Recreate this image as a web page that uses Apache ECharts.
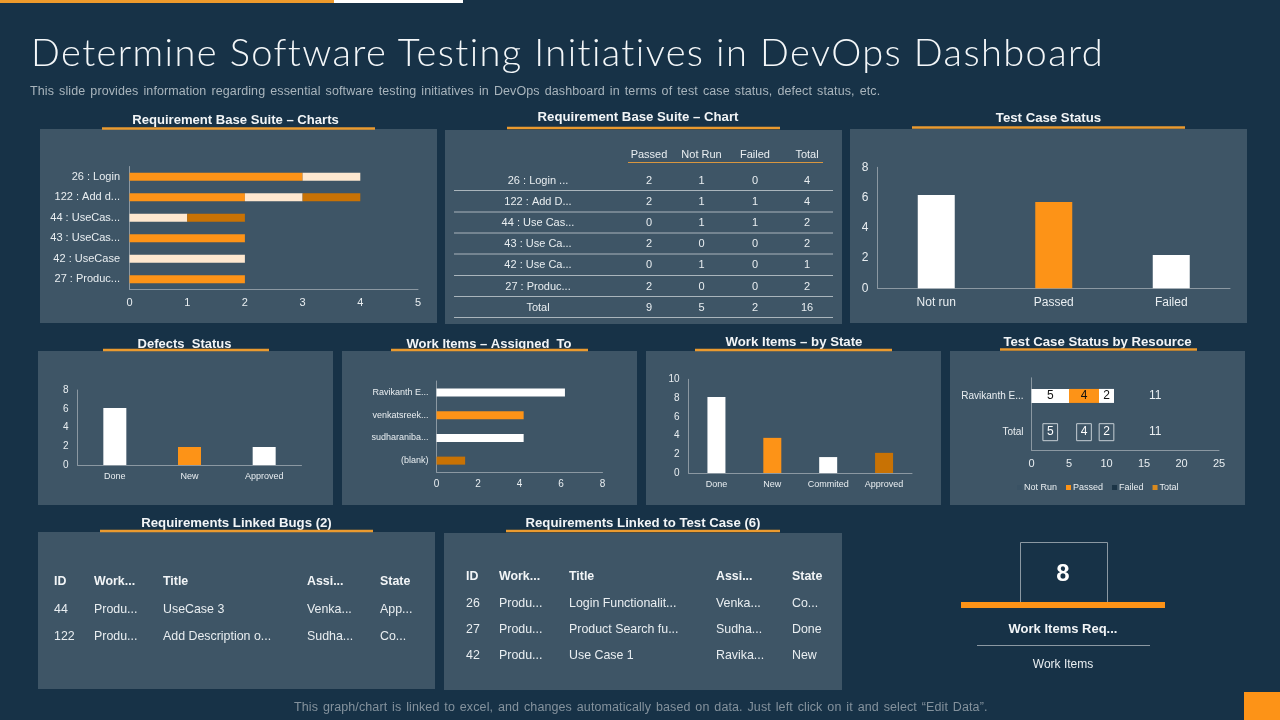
<!DOCTYPE html>
<html><head><meta charset="utf-8">
<style>html,body{margin:0;padding:0;background:#173247;width:1280px;height:720px;overflow:hidden}#c{width:1280px;height:720px}
.t{position:absolute;z-index:5;white-space:nowrap;font-family:"Liberation Sans",Arial,sans-serif}
#st{left:31px;top:27px;line-height:48px;font-family:Lato,"Open Sans",sans-serif;font-weight:300;font-size:38px;letter-spacing:1.4px;color:#f4f7f9}
#ss{left:30px;top:84px;line-height:15px;font-size:12.5px;letter-spacing:.1px;word-spacing:1.5px;color:#a9b5bd}
#sf{left:294px;top:700px;line-height:15px;font-size:12.5px;letter-spacing:.1px;word-spacing:1.3px;color:#84929d}
</style>
<script src="https://cdn.jsdelivr.net/npm/echarts@6/dist/echarts.min.js"></script>
</head><body><div id="c"></div>
<div class="t" id="st"></div><div class="t" id="ss"></div><div class="t" id="sf"></div>
<script>
// ---------- data ----------
const suiteCategories = ['26 : Login','122 : Add d...','44 : UseCas...','43 : UseCas...','42 : UseCase','27 : Produc...'];
const suitePassed = [3,2,0,2,0,2];
const suiteNotRun = [1,1,1,0,2,0];
const suiteFailed = [0,1,1,0,0,0];

const tableHeader = ['Passed','Not Run','Failed','Total'];
const tableNames = ['26 : Login ...','122 : Add D...','44 : Use Cas...','43 : Use Ca...','42 : Use Ca...','27 : Produc...','Total'];
const tablePassed = [2,2,0,2,0,2,9];
const tableNotRun = [1,1,1,0,1,0,5];
const tableFailed = [0,1,1,0,0,0,2];
const tableTotal = [4,4,2,2,1,2,16];

const statusCategories = ['Not run','Passed','Failed'];
const statusValues = [6.17,5.7,2.2];

const defectCategories = ['Done','New','Approved'];
const defectValues = [6.08,1.92,1.92];

const assignedCategories = ['Ravikanth E...','venkatsreek...','sudharaniba...','(blank)'];
const assignedValues = [6.19,4.2,4.2,1.38];

const stateCategories = ['Done','New','Commited','Approved'];
const stateValues = [8.1,3.75,1.7,2.15];

const resourceCategories = ['Ravikanth E...','Total'];
const resourceNotRun = [5,5];
const resourcePassed = [4,4];
const resourceFailed = [2,2];
const resourceTotal = [11,11];

const bugColumns = ['ID','Work...','Title','Assi...','State'];
const bugRows = [['44','Produ...','UseCase 3','Venka...','App...'],['122','Produ...','Add Description o...','Sudha...','Co...']];
const caseColumns = ['ID','Work...','Title','Assi...','State'];
const caseRows = [['26','Produ...','Login Functionalit...','Venka...','Co...'],['27','Produ...','Product Search fu...','Sudha...','Done'],['42','Produ...','Use Case 1','Ravika...','New']];

const kpiValue = '8';
const kpiTitle = 'Work Items Req...';
const kpiSub = 'Work Items';
const slideTitle = 'Determine Software Testing Initiatives in DevOps Dashboard';
const slideSub = 'This slide provides information regarding essential software testing initiatives in DevOps dashboard in terms of test case status, defect status, etc.';
const slideFoot = 'This graph/chart is linked to excel, and changes automatically based on data. Just left click on it and select \u201CEdit Data\u201D.';

document.getElementById('st').textContent=slideTitle;
document.getElementById('ss').textContent=slideSub;
document.getElementById('sf').textContent=slideFoot;

// ---------- style ----------
const BG='#173247',PANEL='#3e5566',OR='#fd9317',CREAM='#fee8d0',DK='#c87204',WH='#ffffff';
const LINE='#8b98a2',TXT='#e9eef1',FONT='"Liberation Sans",Arial,sans-serif';
const line={show:true,lineStyle:{color:LINE,width:1}};
const paint=(vals,cols)=>vals.map((v,i)=>({value:v,itemStyle:{color:cols[i%cols.length]}}));

const grids=[],xAxes=[],yAxes=[],series=[];
function addGrid(box){grids.push({left:box[0],top:box[1],width:box[2],height:box[3],containLabel:false});return grids.length-1;}
function vBars(box,cats,vals,cols,w,max,step,fs,catFs,m){
  const g=addGrid(box);
  xAxes.push({type:'category',gridIndex:g,data:cats,axisLine:line,axisTick:{show:false},axisLabel:{color:TXT,fontSize:catFs,fontFamily:FONT,margin:m,interval:0}});
  yAxes.push({type:'value',gridIndex:g,min:0,max:max,interval:step,splitLine:{show:false},axisLine:line,axisTick:{show:false},axisLabel:{color:TXT,fontSize:fs,fontFamily:FONT,margin:9}});
  series.push({type:'bar',name:'v'+g,xAxisIndex:g,yAxisIndex:g,barWidth:w,data:paint(vals,cols),silent:true});
}
function hAxis(box,cats,max,step,xFs,catFs,m,cm){
  const g=addGrid(box);
  xAxes.push({type:'value',gridIndex:g,min:0,max:max,interval:step,splitLine:{show:false},axisLine:line,axisTick:{show:false},axisLabel:{color:TXT,fontSize:xFs,fontFamily:FONT,margin:m}});
  yAxes.push({type:'category',gridIndex:g,data:cats,inverse:true,axisLine:line,axisTick:{show:false},axisLabel:{color:TXT,fontSize:catFs,fontFamily:FONT,margin:cm,interval:0,padding:[2,0,0,0]}});
  return g;
}

// chart 1: stacked suite
let g=hAxis([129.5,166.5,288.5,123],suiteCategories,5,1,11,11,8,9.5);
[['Suite Passed',suitePassed,OR],['Suite Not Run',suiteNotRun,CREAM],['Suite Failed',suiteFailed,DK]].forEach(s=>{
  series.push({type:'bar',name:s[0],stack:'suite',xAxisIndex:g,yAxisIndex:g,barWidth:8,data:s[1],itemStyle:{color:s[2]},silent:true});
});
// chart 2
vBars([877.5,167.3,352.5,121],statusCategories,statusValues,[WH,OR,WH],37,8,2,12,12,8);
// chart 3
vBars([77.5,390,224,75],defectCategories,defectValues,[WH,OR,WH],23,8,2,10,9,7);
// chart 4
g=hAxis([436.5,381,166,91],assignedCategories,8,2,10,9,7,8);
series.push({type:'bar',name:'assigned',xAxisIndex:g,yAxisIndex:g,barWidth:8,data:paint(assignedValues,[WH,OR,WH,DK]),silent:true});
// chart 5
vBars([688.5,379.3,223.5,93.7],stateCategories,stateValues,[WH,OR,WH,DK],18,10,2,10,9,7);
// chart 6
g=hAxis([1031.5,377.8,187.5,72.5],resourceCategories,25,5,11,10,8,8);
const boxLab={show:true,position:'inside',color:'#fff',fontSize:12,fontFamily:FONT,borderColor:'#c5ced4',borderWidth:1,padding:[3,4,2,4]};
function resSeries(name,color,vals,fill){
  series.push({type:'bar',name:name,stack:'res',xAxisIndex:g,yAxisIndex:g,barWidth:14,itemStyle:{color:color},silent:true,
    data:vals.map((v,i)=> i===0
      ?{value:v,itemStyle:{color:fill},label:{show:true,position:'inside',color:'#111',fontSize:12,fontFamily:FONT}}
      :{value:v,itemStyle:{color:'rgba(0,0,0,0)'},label:boxLab})});
}
resSeries('Not Run','#3a5264',resourceNotRun,WH);
resSeries('Passed',OR,resourcePassed,OR);
resSeries('Failed','#1b3446',resourceFailed,WH);
series.push({type:'bar',name:'Total',stack:'res',xAxisIndex:g,yAxisIndex:g,barWidth:14,itemStyle:{color:'#d98a1e'},silent:true,
  data:resourceTotal.map(v=>({value:v,itemStyle:{color:'rgba(0,0,0,0)'},label:{show:true,position:'inside',color:TXT,fontSize:12,fontFamily:FONT}}))});

// ---------- page furniture ----------
const el=[];
const rect=(x,y,w,h,fill,stroke)=>el.push({type:'rect',shape:{x,y,width:w,height:h},style:{fill:fill||'none',stroke:stroke||null,lineWidth:1},silent:true});
const hr=(x1,x2,y,c,w)=>el.push({type:'line',shape:{x1,y1:y,x2,y2:y},style:{stroke:c,lineWidth:w||1},silent:true});
const text=(x,y,t,fs,c,o)=>el.push({type:'text',style:Object.assign({x,y:y+1,text:String(t),fill:c||TXT,fontSize:fs,fontFamily:FONT,align:'center',verticalAlign:'middle'},o||{}),silent:true});
const bold={fontWeight:'bold'},left={align:'left'};

// top accent
rect(0,0,334,3,'#ee9a2c');rect(334,0,129,3,'#ffffff');
rect(1244,692,36,28,OR);

// panels
[[40,129,397,194],[445,130,397,194],[850,129,397,194],
 [38,351,295,154],[342,351,295,154],[646,351,295,154],[950,351,295,154],
 [38,532,397,157],[444,533,398,157]].forEach(p=>rect(p[0],p[1],p[2],p[3],PANEL));

// section titles + underlines
[['Requirement Base Suite \u2013 Charts',235.5,119,102,375,128.5,13.1],
 ['Requirement Base Suite \u2013 Chart',638,116,507,780,128,13.2],
 ['Test Case Status',1048.5,117,912,1185,127.5,13.2],
 ['Defects  Status',184.5,343,103,269,350,13],
 ['Work Items \u2013 Assigned  To',489,343,391,588,350,13],
 ['Work Items \u2013 by State',794,341,695,892,350,13.2],
 ['Test Case Status by Resource',1097.5,341,1000,1197,349.5,13.2],
 ['Requirements Linked Bugs (2)',236.5,522,100,373,531,13.2],
 ['Requirements Linked to Test Case (6)',643,522,506,780,531,13.2]
].forEach(t=>{text(t[1],t[2],t[0],t[6],'#f2f5f7',bold);hr(t[3],t[4],t[5],'#ea9a2f',2.5);});

// suite table
const colX=[649,701.5,755,807];
tableHeader.forEach((h,i)=>text(colX[i],154,h,11,TXT));
hr(628,823,162.5,'#d9963f',1);
const rowY=[180,201,222,243,264,286,307],ruleY=[190.5,212,233,254,275.5,296.5,317.5];
tableNames.forEach((n,r)=>{
  text(538,rowY[r],n,11,TXT);
  [tablePassed,tableNotRun,tableFailed,tableTotal].forEach((col,c)=>text(colX[c],rowY[r],col[r],11,TXT));
  hr(454,833,ruleY[r],'#aab5bc',1);
});

// linked lists
function listTable(xs,ys,cols,rows){
  cols.forEach((h,i)=>text(xs[i],ys[0],h,12.4,'#f2f5f7',{align:'left',fontWeight:'bold'}));
  rows.forEach((row,r)=>row.forEach((v,i)=>text(xs[i],ys[r+1],v,12.4,TXT,left)));
}
listTable([54,94,163,307,380],[581,609,636],bugColumns,bugRows);
listTable([466,499,569,716,792],[576,603,629,655],caseColumns,caseRows);

// KPI
rect(1020.5,542.5,87,60,null,LINE);
rect(961,602,204,6,OR);
text(1063,573,kpiValue,24,'#fff',bold);
text(1063,628,kpiTitle,13,'#f2f5f7',bold);
hr(977,1150,645.5,LINE,1);
text(1063,664,kpiSub,12,TXT);

const chart=echarts.init(document.getElementById('c'),null,{width:1280,height:720});
chart.setOption({
  animation:false,backgroundColor:BG,
  grid:grids,xAxis:xAxes,yAxis:yAxes,series:series,
  legend:{data:['Not Run','Passed','Failed','Total'],left:1012,top:478,itemWidth:5,itemHeight:5,itemGap:9,icon:'rect',
    textStyle:{color:TXT,fontSize:9,fontFamily:FONT,padding:[0,0,0,-3]},selectedMode:false},
  graphic:{z:-1,elements:el}
});
</script></body></html>
